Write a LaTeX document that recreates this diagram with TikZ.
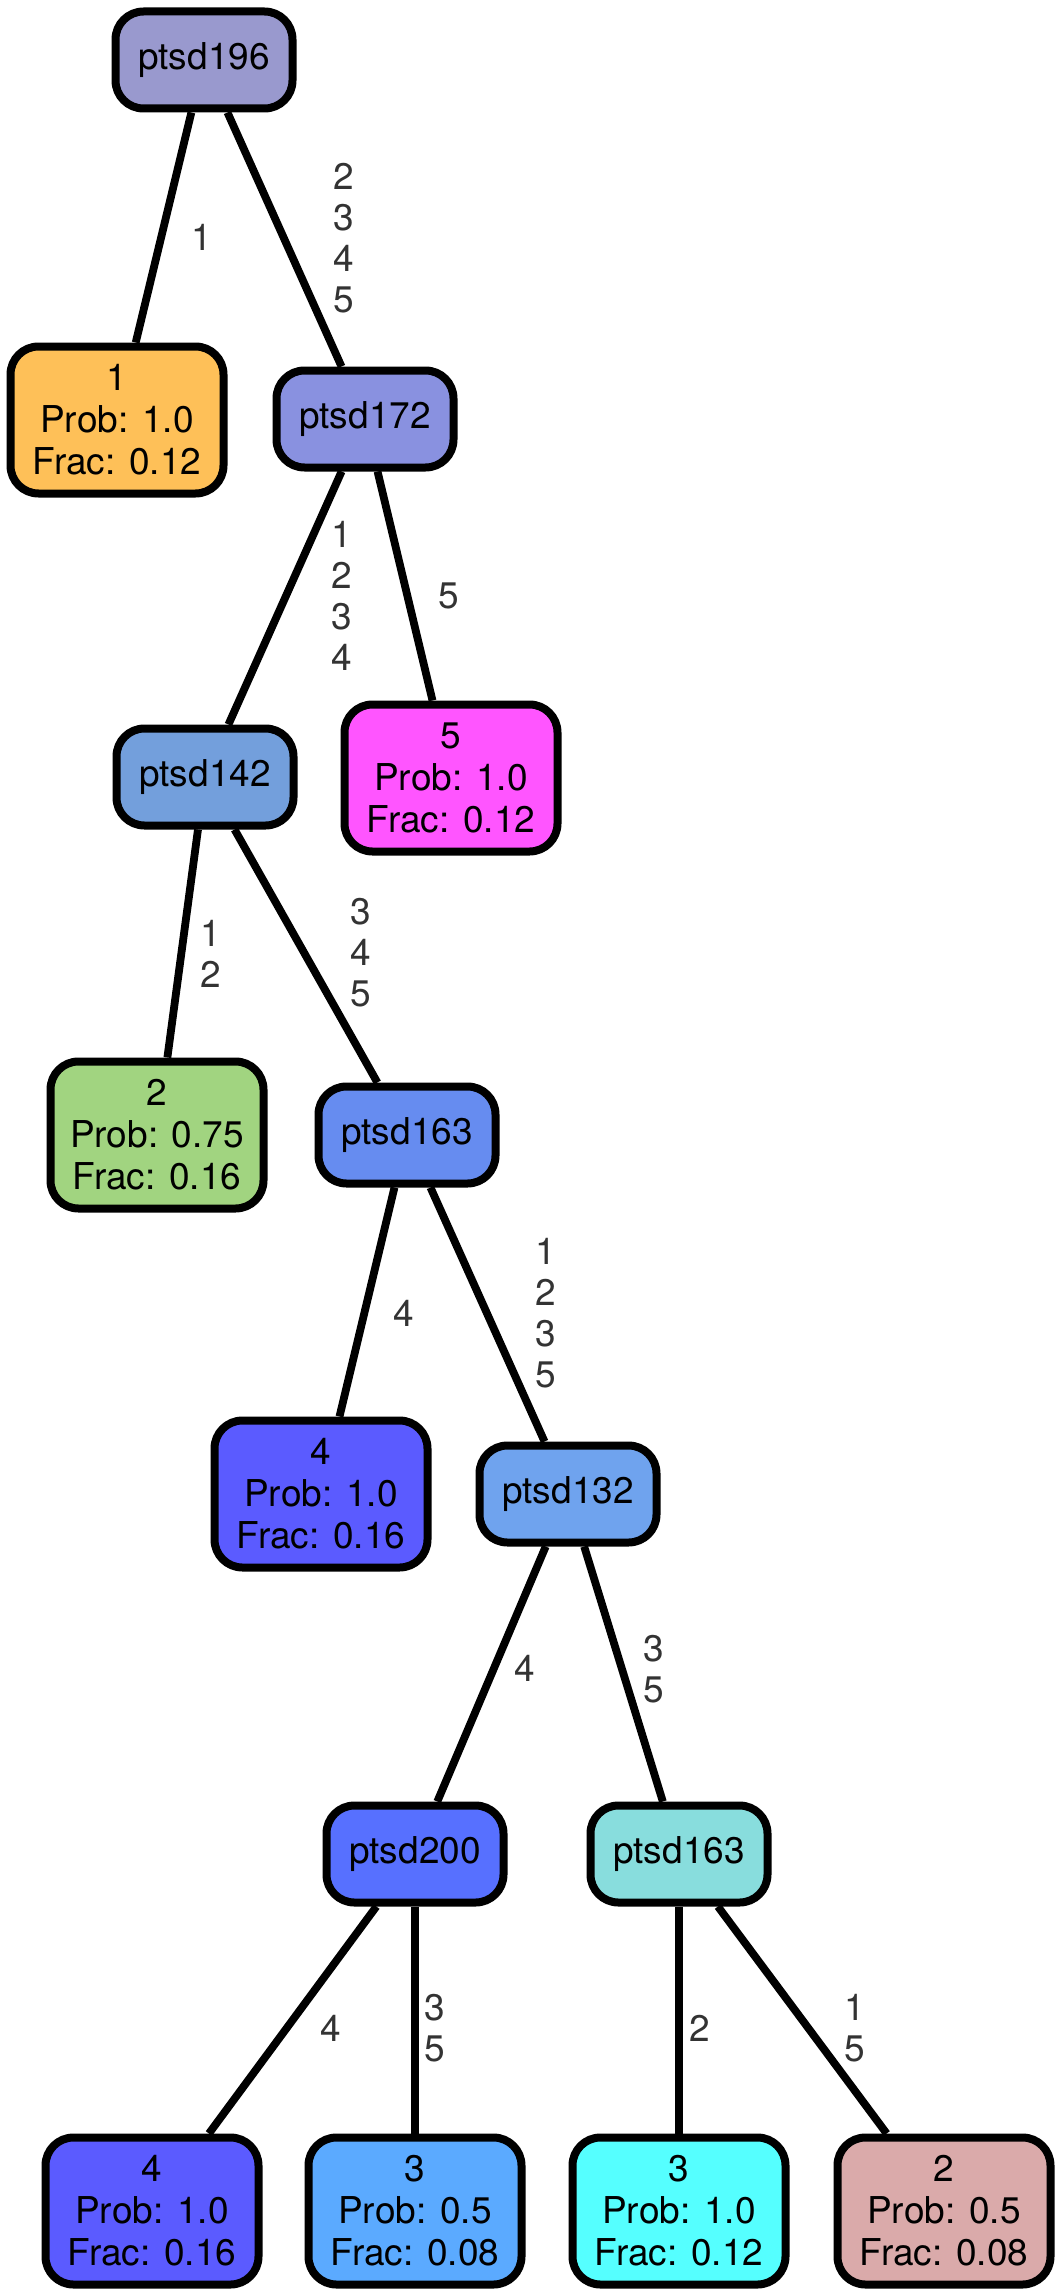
\documentclass[tikz,border=0pt]{standalone}
\usepackage{fontspec}
\setmainfont{TeX Gyre Heros}
\usetikzlibrary{positioning}

\definecolor{cA}{RGB}{153,153,206}
\definecolor{cB}{RGB}{254,192,88}
\definecolor{cC}{RGB}{137,145,224}
\definecolor{cD}{RGB}{255,85,255}
\definecolor{cE}{RGB}{115,159,220}
\definecolor{cF}{RGB}{161,212,128}
\definecolor{cG}{RGB}{102,140,240}
\definecolor{cH}{RGB}{91,91,255}
\definecolor{cI}{RGB}{111,163,238}
\definecolor{cJ}{RGB}{87,112,255}
\definecolor{cK}{RGB}{136,221,221}
\definecolor{cL}{RGB}{91,170,255}
\definecolor{cM}{RGB}{85,255,255}
\definecolor{cN}{RGB}{218,170,170}

\begin{document}
\begin{tikzpicture}[x=1pt,y=-1pt,
    split/.style={draw, line width=8pt, rounded corners=28pt, minimum width=177pt,
      minimum height=97pt, inner sep=0pt, font=\fontsize{37}{42}\selectfont},
    leaf/.style={draw, line width=8pt, rounded corners=28pt, minimum width=213pt,
      minimum height=147pt, inner sep=0pt, align=center, font=\fontsize{37}{42}\selectfont},
    edge/.style={line width=7.8pt},
    elabel/.style={align=center, text=black!80, inner sep=0pt, font=\fontsize{37}{41}\selectfont}]
        \useasboundingbox (0,0) rectangle (1061,2296);

        % internal nodes
        \node[split, fill=cA] (n196) at (204,60) {ptsd196};
        \node[split, fill=cC] (n172) at (365,419) {ptsd172};
        \node[split, fill=cE] (n142) at (205,777) {ptsd142};
        \node[split, fill=cG] (n163) at (407,1135) {ptsd163};
        \node[split, fill=cI] (n132) at (568,1494) {ptsd132};
        \node[split, fill=cJ] (n200) at (415,1854) {ptsd200};
        \node[split, fill=cK] (n163b) at (679,1854) {ptsd163};

        % leaves
        \node[leaf, fill=cB] (l1) at (117,420) {1\\Prob: 1.0\\Frac: 0.12};
        \node[leaf, fill=cD] (l5) at (451,778) {5\\Prob: 1.0\\Frac: 0.12};
        \node[leaf, fill=cF] (l2) at (157,1135) {2\\Prob: 0.75\\Frac: 0.16};
        \node[leaf, fill=cH] (l4) at (321,1494) {4\\Prob: 1.0\\Frac: 0.16};
        \node[leaf, fill=cH] (l4b) at (152,2211) {4\\Prob: 1.0\\Frac: 0.16};
        \node[leaf, fill=cL] (l3a) at (415,2211) {3\\Prob: 0.5\\Frac: 0.08};
        \node[leaf, fill=cM] (l3b) at (679,2211) {3\\Prob: 1.0\\Frac: 0.12};
        \node[leaf, fill=cN] (l2b) at (944,2211) {2\\Prob: 0.5\\Frac: 0.08};

        % edges
        \draw[edge] (n196) -- (l1);
        \draw[edge] (n196) -- (n172);
        \draw[edge] (n172) -- (n142);
        \draw[edge] (n172) -- (l5);
        \draw[edge] (n142) -- (l2);
        \draw[edge] (n142) -- (n163);
        \draw[edge] (n163) -- (l4);
        \draw[edge] (n163) -- (n132);
        \draw[edge] (n132) -- (n200);
        \draw[edge] (n132) -- (n163b);
        \draw[edge] (n200) -- (l4b);
        \draw[edge] (n200) -- (l3a);
        \draw[edge] (n163b) -- (l3b);
        \draw[edge] (n163b) -- (l2b);

        % edge labels
        \node[elabel] (e1) at (202,237) {1};
        \node[elabel] (e2) at (344,238) {2\\3\\4\\5};
        \node[elabel] (e3) at (342,596) {1\\2\\3\\4};
        \node[elabel] (e4) at (449,596) {5};
        \node[elabel] (e5) at (211,954) {1\\2};
        \node[elabel] (e6) at (361,953) {3\\4\\5};
        \node[elabel] (e7) at (404,1313) {4};
        \node[elabel] (e8) at (546,1313) {1\\2\\3\\5};
        \node[elabel] (e9) at (525,1668) {4};
        \node[elabel] (e10) at (654,1669) {3\\5};
        \node[elabel] (e11) at (331,2028) {4};
        \node[elabel] (e12) at (435,2028) {3\\5};
        \node[elabel] (e13) at (700,2028) {2};
        \node[elabel] (e14) at (855,2028) {1\\5};
      \end{tikzpicture}
\end{document}
